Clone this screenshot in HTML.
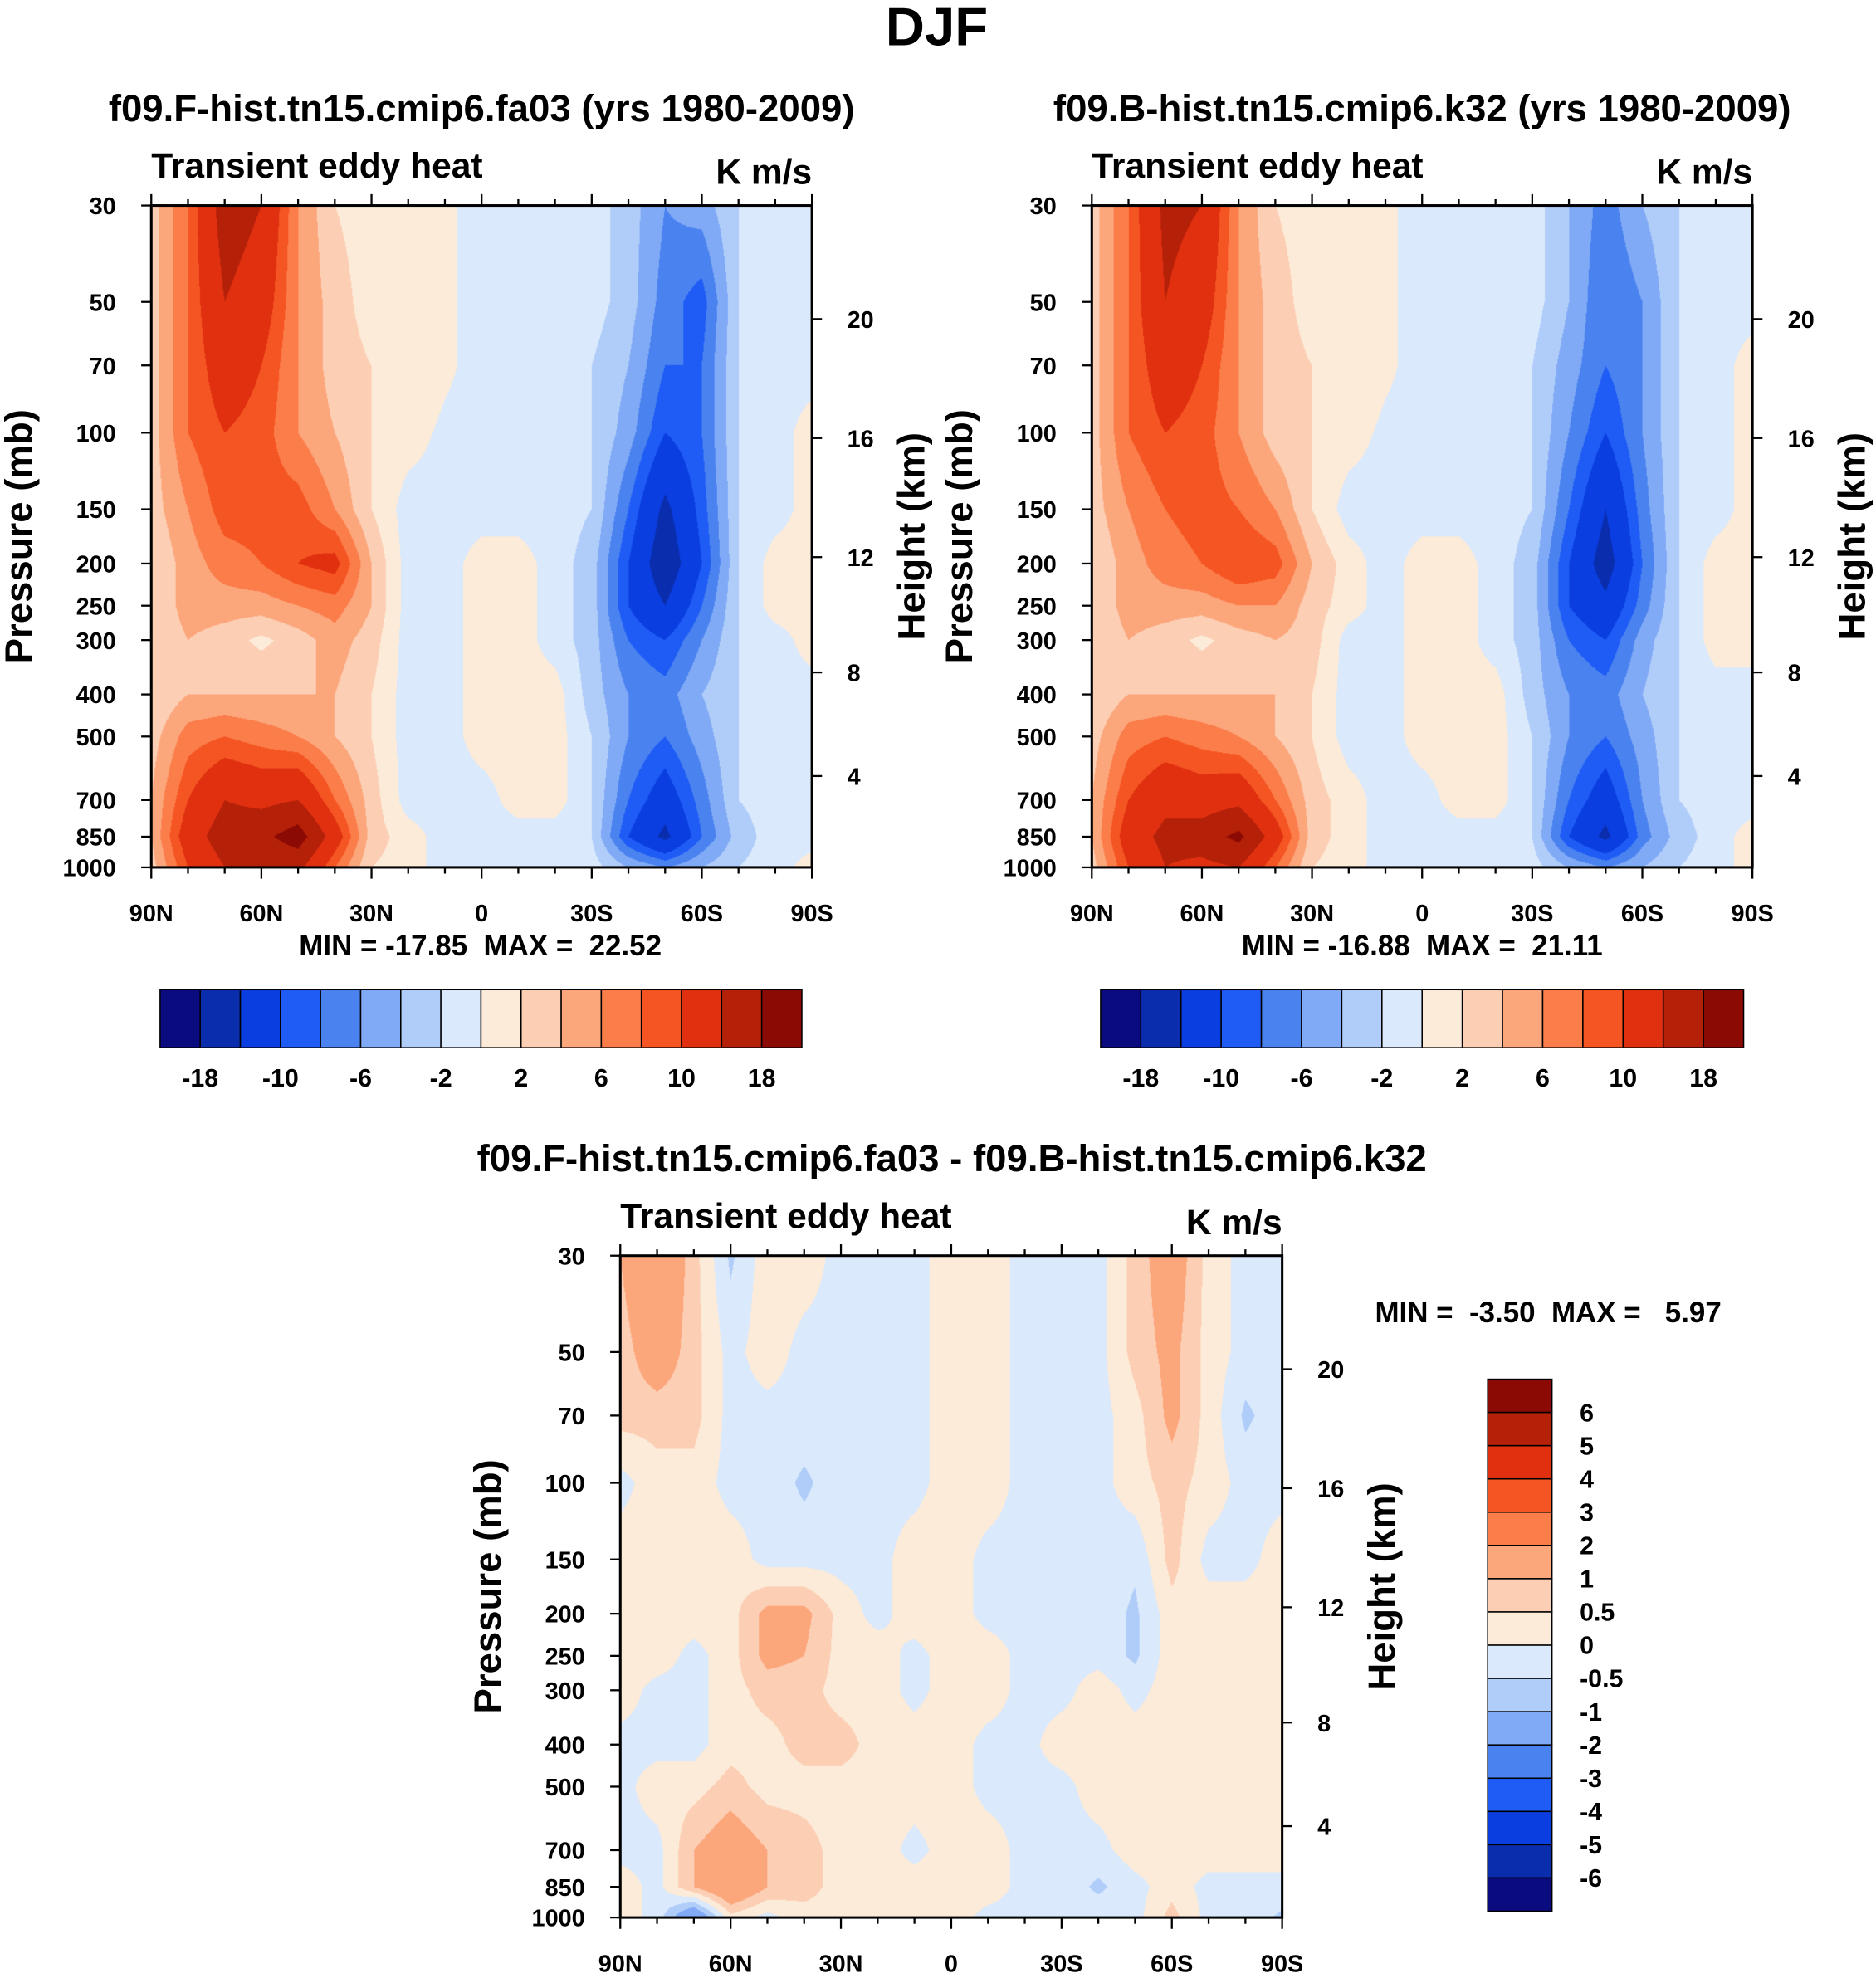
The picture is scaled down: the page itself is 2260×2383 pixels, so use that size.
<!DOCTYPE html>
<html><head><meta charset="utf-8">
<style>
html,body{margin:0;padding:0;background:#fff;width:2260px;height:2383px;overflow:hidden}
#wrap{position:absolute;left:0;top:0;width:1488px;height:1569px;transform:scale(1.51882,1.51880);transform-origin:0 0}
canvas{position:absolute}
svg{position:absolute;left:0;top:0}
text{font-family:"Liberation Sans",Arial,sans-serif;font-weight:bold;fill:#000;white-space:pre}
</style></head>
<body>
<div id="wrap">
<canvas id="c1" width="786" height="788" style="left:120px;top:163px;width:524px;height:525px"></canvas>
<canvas id="c2" width="786" height="788" style="left:866px;top:163px;width:524px;height:525px"></canvas>
<canvas id="c3" width="788" height="788" style="left:492px;top:996px;width:525px;height:525px"></canvas>
<svg id="ov" width="1488" height="1569" viewBox="0 0 1488 1569"></svg>
</div>
<script>
const latLabels=["90N","60N","30N","0","30S","60S","90S"];
const presLevels=[30,50,70,100,150,200,250,300,400,500,700,850,1000];
const presTickLabels=["30","50","70","100","150","200","250","300","400","500","700","850","1000"];
const heightTicks=[20,16,12,8,4];
const lats=[90,80,70,60,50,40,30,20,10,0,-10,-20,-30,-40,-50,-60,-70,-80,-90];
const colors=["#0b0b80","#0a2dad","#0a3ee0","#1e5cf5","#4a82f0","#80aaf5","#b0cdfa","#dae9fb","#fdebd9","#fccfb4","#fca67c","#fb7d4a","#f55522","#e03010","#b52008","#8c0a04"];
const levelsAbs=[-18,-14,-10,-8,-6,-4,-2,0,2,4,6,8,10,14,18];
const levelsDiff=[-6,-5,-4,-3,-2,-1,-0.5,0,0.5,1,2,3,4,5,6];
const cbLabelsAbs=["-18","-10","-6","-2","2","6","10","18"];
const cbLabelsDiff=["6","5","4","3","2","1","0.5","0","-0.5","-1","-2","-3","-4","-5","-6"];
const fieldF=[
[3,8,16,14,6,2,1,1,0.5,-1,-1,-1,-1,-3,-6,-5,-2,-1,-1],
[3,8,14,12,6,3,1,1,0.5,-1,-1,-1,-1,-3,-7,-9,-2,-1,-1],
[3,8,12,10,6,3,2,2,0.5,-1,-1,-1,-2,-4,-8,-8,-2,-1,-1],
[3,8,10,9,6,4,2,1,-0.5,-1,-2,-1,-2,-5,-10,-8,-2,-1,1],
[3,6,9,9,9,6,2,-1,-1,-1,-1,-1,-2,-8,-15,-9,-2,-1,1],
[2,5,7,8,10,11,4,-1,-1,1,1,-1,-3,-10,-17,-10,-2,1,1],
[2,5,5,5,6,7,4,-1,-1,1,1,-1,-3,-10,-14,-8,-2,1,1],
[2,4,3,1.5,3,5,3,-1,-1,1,1,-1,-3,-8,-10,-6,-2,-1,1],
[2,4,4,4,4,4,2,-1,-1,1,1,1,-3,-6,-7,-4,-2,-1,-1],
[3,7,8,7,6,4,2,-1,-1,1,1,1,-2,-6,-8,-5,-2,-1,-1],
[4,10,14,13,14,8,3,-1,-1,-1,1,1,-2,-8,-12,-7,-2,-1,-1],
[4,12,16,17,20,12,3,1,-1,-1,-1,-1,-2,-10,-15,-8,-3,-1,-1],
[3,10,14,14,15,8,2,1,-1,-1,-1,-1,-1,-4,-6,-4,-2,-1,1]];
const fieldB=[
[3,8,15,14,6,2,1,1,0.5,-1,-1,-1,-1,-4,-7,-4,-2,-1,-1],
[3,8,14,12,6,3,1,1,0.5,-1,-1,-1,-1,-4,-8,-6,-2,-1,-1],
[3,8,12,10,6,3,2,2,0.5,-1,-1,-1,-2,-5,-8,-6,-2,-1,1],
[3,8,10,9,6,3,2,1,-0.5,-1,-2,-1,-2,-6,-10,-6,-2,-1,1],
[3,6,8,9,8,6,2,-1,-1,-1,-1,-1,-2,-8,-14,-7,-2,-1,1],
[2,5,7,8,10,9,4,1,-1,1,1,-1,-3,-10,-16,-8,-2,1,1],
[2,5,5,5,6,6,3,1,-1,1,1,-1,-3,-10,-13,-7,-2,1,1],
[2,4,3,1.5,3,4,3,-1,-1,1,1,-1,-3,-8,-10,-5,-2,1,1],
[2,4,4,4,4,4,2,-1,-1,1,1,1,-3,-6,-7,-4,-2,-1,-1],
[3,7,8,7,6,4,2,-1,-1,1,1,1,-2,-6,-8,-5,-2,-1,-1],
[4,10,13,12,13,8,3,1,-1,-1,1,1,-2,-8,-12,-6,-2,-1,-1],
[4,12,15,16,19,12,3,1,-1,-1,-1,-1,-2,-10,-15,-7,-3,-1,1],
[3,10,14,13,14,8,2,1,-1,-1,-1,-1,-1,-4,-6,-4,-2,-1,1]];
const fieldD=[
[1,2,0.7,-0.6,0.3,0.3,-0.2,-0.2,-0.2,0.3,0.3,-0.2,-0.2,-0.2,0.7,1.5,0.3,-0.2,-0.2],
[0.7,1.5,0.7,-0.2,0.3,-0.2,-0.2,-0.2,-0.2,0.3,0.3,-0.2,-0.2,-0.2,0.7,1.2,0.3,-0.2,-0.2],
[0.7,0.7,0.7,-0.2,-0.2,-0.2,-0.2,-0.2,-0.2,0.3,0.3,-0.2,-0.2,-0.2,0.3,1.2,0.3,-0.6,-0.2],
[-0.2,0.3,0.3,-0.2,-0.2,-0.6,-0.2,-0.2,-0.2,0.3,0.3,-0.2,-0.2,-0.2,0.3,0.7,0.3,-0.2,-0.2],
[0.3,0.3,0.3,0.3,-0.2,-0.2,-0.2,-0.2,0.3,0.3,-0.2,-0.2,-0.2,-0.2,-0.4,0.7,-0.2,-0.2,0.3],
[0.3,0.3,0.3,0.3,1.2,1.2,0.3,-0.2,0.3,0.3,-0.2,-0.2,-0.2,-0.2,-0.6,0.3,0.3,0.3,0.3],
[0.3,0.3,-0.2,0.3,1.2,1,0.3,0.3,-0.2,0.3,0.3,-0.2,-0.2,-0.2,-0.6,0.3,0.3,0.3,0.3],
[0.3,-0.2,-0.2,0.3,0.7,0.7,0.3,0.3,-0.2,0.3,0.3,-0.2,-0.2,0.3,-0.2,0.3,0.3,0.3,0.3],
[-0.2,-0.2,-0.2,0.3,0.3,0.7,0.7,0.3,0.3,0.3,-0.2,-0.2,0.3,0.3,0.3,0.3,0.3,0.3,0.3],
[-0.2,0.3,0.3,0.7,0.3,0.3,0.3,0.3,0.3,0.3,-0.2,-0.2,-0.2,0.3,0.3,0.3,0.3,0.3,0.3],
[-0.2,-0.2,1,1.5,1,0.7,0.3,0.3,-0.2,0.3,0.3,-0.2,-0.2,-0.2,0.3,0.3,0.3,0.3,0.3],
[0.3,-0.2,1,2,1,0.7,0.3,0.3,0.3,0.3,0.3,-0.2,-0.2,-0.6,-0.2,0.3,-0.2,-0.2,-0.2],
[0.3,-0.2,-2,0.3,-0.2,0.3,0.3,0.3,0.3,0.3,-0.2,-0.2,-0.2,-0.2,-0.2,0.7,-0.2,-0.2,-0.6]];

const LR=Math.log(1000/30);
function yFrac(p){return Math.log(p/30)/LR;}
function xFrac(lat){return (90-lat)/180;}
function hexRgb(h){return [parseInt(h.substr(1,2),16),parseInt(h.substr(3,2),16),parseInt(h.substr(5,2),16)];}
const rgb=colors.map(hexRgb);
function drawField(id,grid,levels){
  const c=document.getElementById(id),ctx=c.getContext('2d'),W=c.width,H=c.height;
  const img=ctx.createImageData(W,H);
  const ys=presLevels.map(yFrac), xs=lats.map(xFrac);
  for(let py=0;py<H;py++){
    const fy=(py+0.5)/H; let j=0; while(j<ys.length-2&&ys[j+1]<fy)j++;
    const ty=Math.min(1,Math.max(0,(fy-ys[j])/(ys[j+1]-ys[j])));
    for(let px=0;px<W;px++){
      const fx=(px+0.5)/W; let i=0; while(i<xs.length-2&&xs[i+1]<fx)i++;
      const tx=Math.min(1,Math.max(0,(fx-xs[i])/(xs[i+1]-xs[i])));
      const v=(grid[j][i]*(1-tx)+grid[j][i+1]*tx)*(1-ty)+(grid[j+1][i]*(1-tx)+grid[j+1][i+1]*tx)*ty;
      let k=0; while(k<levels.length&&v>=levels[k])k++;
      const col=rgb[k],o=(py*W+px)*4;
      img.data[o]=col[0];img.data[o+1]=col[1];img.data[o+2]=col[2];img.data[o+3]=255;
    }
  }
  ctx.putImageData(img,0,0);
}
drawField('c1',fieldF,levelsAbs);
drawField('c2',fieldB,levelsAbs);
drawField('c3',fieldD,levelsDiff);

const NS="http://www.w3.org/2000/svg",svg=document.getElementById('ov');
function el(tag,attrs,parent){const e=document.createElementNS(NS,tag);for(const k in attrs)e.setAttribute(k,attrs[k]);(parent||svg).appendChild(e);return e;}
function txt(x,y,s,size,anchor,name,extra){const t=el('text',Object.assign({x:x,y:y,'font-size':size,'text-anchor':anchor||'middle'},extra||{}));t.textContent=s;


return t;}
function line(x1,y1,x2,y2,w){return el('line',{x1:x1,y1:y1,x2:x2,y2:y2,stroke:'#000','stroke-width':w||1.5});}
function heightToP(zkm){const z=zkm*1000;
  if(z<=11000)return 1013.25*Math.pow(1-2.25577e-5*z,5.25588);
  return 226.32*Math.exp(-(z-11000)/6341.6);}

function axes(ox,oy,W,H,prefix){
  const g=el('g',{});
  
  
  el('rect',{x:ox,y:oy,width:W,height:H,fill:'none',stroke:'#000','stroke-width':2},g);
  presLevels.forEach((p,i)=>{const y=oy+yFrac(p)*H;line(ox-8,y,ox,y);
    txt(ox-28,y+7,presTickLabels[i],19,'end',prefix+'-pressure-tick-label');});
  heightTicks.forEach(z=>{const p=heightToP(z);const y=oy+yFrac(p)*H;line(ox+W,y,ox+W+8,y);
    txt(ox+W+28,y+7,String(z),19,'start',prefix+'-height-tick-label');});
  for(let lat=90;lat>=-90;lat-=10){const x=ox+xFrac(lat)*W;const major=lat%30===0;
    line(x,oy,x,oy-(major?9:5));line(x,oy+H,x,oy+H+(major?9:5));}
  latLabels.forEach((s,i)=>{txt(ox+i*W/6,oy+H+43,s,19,'middle',prefix+'-lat-tick-label');});
  txt(ox,oy-22,'Transient eddy heat',28,'start',prefix+'-subtitle');
  txt(ox+W,oy-17,'K m/s',28,'end',prefix+'-units');
  txt(0,0,'Pressure (mb)',30,'middle',prefix+'-y-axis-title',{transform:`translate(${ox-95},${oy+H*0.5}) rotate(-90)`});
  txt(0,0,'Height (km)',30,'middle',prefix+'-y2-axis-title',{transform:`translate(${ox+W+89},${oy+H*0.5}) rotate(-90)`});
}
txt(743,36,'DJF',43,'middle','figure-title');
txt(382,96,'f09.F-hist.tn15.cmip6.fa03 (yrs 1980-2009)',30,'middle','left-panel-title');
txt(1128,96,'f09.B-hist.tn15.cmip6.k32 (yrs 1980-2009)',30,'middle','right-panel-title');
txt(755,929,'f09.F-hist.tn15.cmip6.fa03 - f09.B-hist.tn15.cmip6.k32',30,'middle','diff-panel-title');
axes(120,163,524,525,'left');
axes(866,163,524,525,'right');
axes(492,996,525,525,'diff');
txt(381,758,'MIN = -17.85  MAX =  22.52',23,'middle','left-min-max');
txt(1128,758,'MIN = -16.88  MAX =  21.11',23,'middle','right-min-max');
txt(1228,1049,'MIN =  -3.50  MAX =   5.97',23,'middle','diff-min-max');

function hbar(x0,y0,w,h,prefix){
  const bw=w/colors.length;
  colors.forEach((c,i)=>{const r=el('rect',{x:x0+i*bw,y:y0,width:bw,height:h,fill:c,stroke:'#000','stroke-width':1});
    
    });
  cbLabelsAbs.forEach((s,i)=>{txt(x0+(1+2*i)*bw,y0+h+31,s,20,'middle',prefix+'-colorbar-label');});
}
hbar(127,785,509,46,'left');
hbar(873,785,510,46,'right');
(function(){const x0=1180,y0=1094,w=51,h=422,bh=h/16;
  colors.slice().reverse().forEach((c,i)=>{const r=el('rect',{x:x0,y:y0+i*bh,width:w,height:bh,fill:c,stroke:'#000','stroke-width':1});
    
    });
  cbLabelsDiff.forEach((s,i)=>{txt(x0+73,y0+(i+1)*bh+7,s,20,'start','diff-colorbar-label');});
})();
</script>
</body></html>
